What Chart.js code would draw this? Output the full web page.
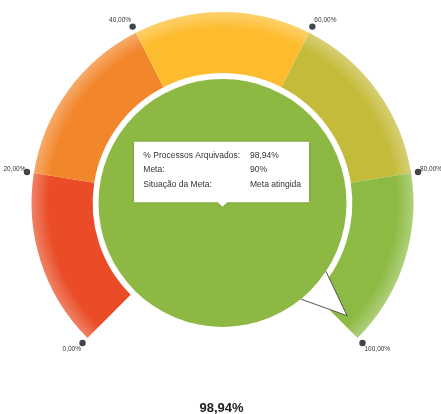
<!DOCTYPE html>
<html>
<head>
<meta charset="utf-8">
<script src="https://cdn.jsdelivr.net/npm/chart.js@4.4.1/dist/chart.umd.min.js"></script>
<style>
  html, body { margin: 0; padding: 0; background: #fff; }
  canvas { display: block; }
</style>
</head>
<body>
<canvas id="gaugeChart" width="441" height="414"></canvas>
<script>
// faixas do velocimetro (0-100%)
const bandLabels = ["0-20%", "20-40%", "40-60%", "60-80%", "80-100%"];
const bandSizes = [20, 20, 20, 20, 20];
const bandColors = ["#e94c26", "#f2862a", "#fdbc2d", "#c5bb3a", "#8dba43"];

const tickValues = [0, 20, 40, 60, 80, 100];
const tickLabels = ["0,00%", "20,00%", "40,00%", "60,00%", "80,00%", "100,00%"];

const valorAtual = 98.94;
const valorTexto = "98,94%";
const tooltipRows = [
    ["% Processos Arquivados:", "98,94%"],
    ["Meta:", "90%"],
    ["Situação da Meta:", "Meta atingida"]
];

function lighten(hex, amt) {
    const n = parseInt(hex.slice(1), 16);
    const r = (n >> 16) & 255, g = (n >> 8) & 255, b = n & 255;
    const f = c => Math.round(c + (255 - c) * amt);
    return `rgb(${f(r)},${f(g)},${f(b)})`;
}

function gaugeCenter(chart) {
    const c = chart.getDatasetMeta(0).controller;
    const area = chart.chartArea;
    return {
        x: (area.left + area.right) / 2 + c.offsetX,
        y: (area.top + area.bottom) / 2 + c.offsetY,
        inner: c.innerRadius,
        outer: c.outerRadius
    };
}

function bandColor(ctx) {
    const base = bandColors[ctx.dataIndex];
    const chart = ctx.chart;
    if (!chart.chartArea) return base;
    const g = gaugeCenter(chart);
    if (!g.outer) return base;
    const grad = chart.ctx.createRadialGradient(g.x, g.y, g.inner, g.x, g.y, g.outer);
    grad.addColorStop(0, base);
    grad.addColorStop(0.72, base);
    grad.addColorStop(1, lighten(base, 0.3));
    return grad;
}

function valueAngle(chart, v) {
    const arcs = chart.getDatasetMeta(0).data;
    const start = arcs[0].startAngle;
    const end = arcs[arcs.length - 1].endAngle;
    return start + (end - start) * v / 100;
}

const gaugeExtras = {
    id: "gaugeExtras",
    afterDatasetsDraw(chart) {
        const ctx = chart.ctx;
        const g = gaugeCenter(chart);
        ctx.save();

        // marcadores e rotulos
        tickValues.forEach((v, i) => {
            const a = valueAngle(chart, v);
            const px = g.x + (g.outer + 7) * Math.cos(a);
            const py = g.y + (g.outer + 7) * Math.sin(a);
            ctx.fillStyle = "#3f4548";
            ctx.beginPath();
            ctx.arc(px, py, 3.2, 0, Math.PI * 2);
            ctx.fill();

            ctx.font = "6.5px 'Liberation Sans', Arial, sans-serif";
            ctx.fillStyle = "#333";
            ctx.textBaseline = "middle";
            const cos = Math.cos(a), sin = Math.sin(a);
            let tx = px, ty = py - 3;
            if (cos < -0.01) { ctx.textAlign = "right"; tx = px - 1.5; }
            else { ctx.textAlign = "left"; tx = px + 2; }
            if (sin < -0.5) ty = py - 6.3;
            else if (sin > 0.5) ty = py + 6.3;
            ctx.fillText(tickLabels[i], tx, ty);
        });

        // ponteiro
        const va = valueAngle(chart, valorAtual);
        const baseR = 124, tipR = 168, half = 8.7 * Math.PI / 180;
        ctx.beginPath();
        ctx.moveTo(g.x + baseR * Math.cos(va - half), g.y + baseR * Math.sin(va - half));
        ctx.lineTo(g.x + tipR * Math.cos(va), g.y + tipR * Math.sin(va));
        ctx.lineTo(g.x + baseR * Math.cos(va + half), g.y + baseR * Math.sin(va + half));
        ctx.fillStyle = "#fff";
        ctx.fill();
        ctx.strokeStyle = "#555";
        ctx.lineWidth = 1;
        ctx.stroke();

        // circulo central
        ctx.beginPath();
        ctx.arc(g.x, g.y, 124, 0, Math.PI * 2);
        ctx.fillStyle = "#8db843";
        ctx.fill();

        // caixa de informacao
        const bx = g.x - 88.5, by = g.y - 61.3, bw = 175, bh = 60.5;
        ctx.save();
        ctx.shadowColor = "rgba(0,0,0,0.18)";
        ctx.shadowBlur = 3;
        ctx.fillStyle = "#fff";
        ctx.beginPath();
        ctx.rect(bx, by, bw, bh);
        ctx.moveTo(g.x - 5, by + bh);
        ctx.lineTo(g.x, by + bh + 4.5);
        ctx.lineTo(g.x + 5, by + bh);
        ctx.fill();
        ctx.restore();

        ctx.font = "8.5px 'Liberation Sans', Arial, sans-serif";
        ctx.fillStyle = "#333";
        ctx.textAlign = "left";
        ctx.textBaseline = "middle";
        tooltipRows.forEach((row, i) => {
            const ry = by + 13.5 + i * 14.8;
            ctx.fillText(row[0], bx + 9.3, ry);
            ctx.fillText(row[1], bx + 116, ry);
        });

        // valor abaixo
        ctx.font = "bold 13px 'Liberation Sans', Arial, sans-serif";
        ctx.fillStyle = "#222";
        ctx.textAlign = "center";
        ctx.fillText(valorTexto, g.x - 1, 408);

        ctx.restore();
    }
};

const ctx = document.getElementById("gaugeChart").getContext("2d");

new Chart(ctx, {
    type: "doughnut",
    data: {
        labels: bandLabels,
        datasets: [{
            data: bandSizes,
            backgroundColor: bandColor,
            borderWidth: 0
        }]
    },
    options: {
        responsive: false,
        animation: false,
        rotation: -135,
        circumference: 270,
        cutout: "68%",
        layout: {
            padding: { left: 31.5, right: 27.5, top: 12, bottom: 76 }
        },
        plugins: {
            legend: { display: false },
            tooltip: { enabled: false }
        }
    },
    plugins: [gaugeExtras]
});
</script>
</body>
</html>
